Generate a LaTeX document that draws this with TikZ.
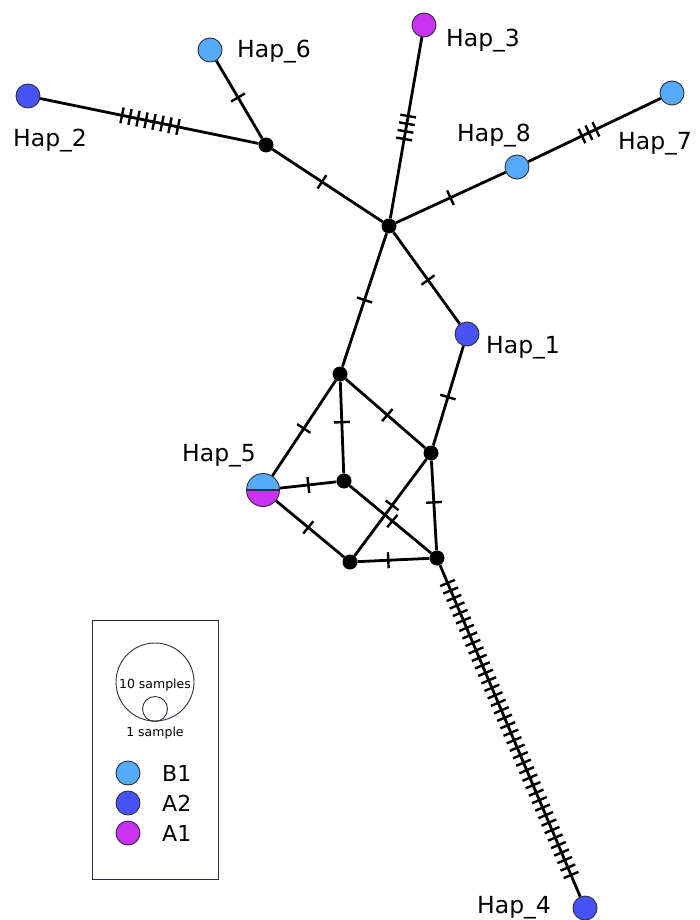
\documentclass[tikz,border=0pt]{standalone}
\usepackage{fontspec}
\setmainfont{DejaVu Sans}
\definecolor{cB}{RGB}{85,170,250}
\definecolor{cAtwo}{RGB}{72,82,245}
\definecolor{cAone}{RGB}{200,50,240}
\definecolor{outl}{RGB}{45,45,60}
\begin{document}
\begin{tikzpicture}[x=1pt,y=-1pt,
 hap/.style={circle, draw=outl, line width=0.9pt, minimum size=24pt, inner sep=0},
 med/.style={circle, fill=black, minimum size=15pt, inner sep=0},
 edge/.style={line width=2.8pt},
 tick/.style={sloped, fill=black, inner sep=0, minimum width=2.4pt, minimum height=16pt},
 lab/.style={anchor=base west, font=\fontsize{23.5}{28}\selectfont, inner sep=0},
 leglab/.style={anchor=base west, font=\fontsize{22}{26}\selectfont, inner sep=0}]
\useasboundingbox (0,0) rectangle (699,920);

% haplotypes and median vectors
\node[hap, fill=cAtwo] (h2) at (28,96) {};
\node[med] (a) at (266,145) {};
\node[hap, fill=cB] (h6) at (210,50) {};
\node[hap, fill=cAone] (h3) at (424,25) {};
\node[hap, fill=cB] (h8) at (517,167) {};
\node[hap, fill=cB] (h7) at (672,93) {};
\node[med] (b) at (389,226) {};
\node[hap, fill=cAtwo] (h1) at (467,334) {};
\node[med] (c) at (340,374) {};
\node[med] (d) at (431,453) {};
\node[hap, minimum size=33pt,
  path picture={
   \fill[cB] (path picture bounding box.north west) rectangle (path picture bounding box.east);
   \fill[cAone] (path picture bounding box.west) rectangle (path picture bounding box.south east);
   \draw[line width=1.6pt] (path picture bounding box.west) -- (path picture bounding box.east);
  }] (h5) at (263,490) {};
\node[med] (e) at (344,481) {};
\node[med] (f) at (350,562) {};
\node[med] (g) at (437,558) {};
\node[hap, fill=cAtwo] (h4) at (585,908) {};

% labels
\node[lab] (l2) at (13,147) {Hap\_2};
\node[lab] (l6) at (237,58) {Hap\_6};
\node[lab] (l3) at (446,47) {Hap\_3};
\node[lab] (l8) at (457,142) {Hap\_8};
\node[lab] (l7) at (618,150) {Hap\_7};
\node[lab] (l1) at (486,353) {Hap\_1};
\node[lab] (l5) at (182,461) {Hap\_5};
\node[lab] (l4) at (477,913) {Hap\_4};

% edges
\foreach \u/\v in {h2/a, h6/a, a/b, h3/b, b/h8, h8/h7, b/h1, b/c, h1/d,
  c/h5, c/e, c/d, h5/e, h5/f, e/g, d/f, d/g, f/g, g/h4}
  \draw[edge] (\u) -- (\v);

% mutation ticks
\foreach \u/\v/\s/\d/\n in {h2/a/0.395/0.0336/8, h6/a/0.5/0/1, a/b/0.455/0/1,
  h3/b/0.453/0.038/4, b/h8/0.48/0/1, h8/h7/0.419/0.045/3, b/h1/0.5/0/1,
  b/c/0.5/0/1, h1/d/0.53/0/1, c/h5/0.47/0/1, c/e/0.45/0/1, c/d/0.52/0/1,
  h5/e/0.56/0/1, h5/f/0.52/0/1, e/g/0.52/0/1, d/f/0.48/0/1, d/g/0.47/0/1,
  f/g/0.44/0/1, g/h4/0.0714/0.02139/40}
{
  \foreach \i in {1,...,\n}{
    \pgfmathsetmacro\p{\s+(\i-1)*\d}
    \path (\u.center) -- (\v.center) node[tick, pos=\p] {};
  }
}

% legend
\node[draw=outl, line width=1pt, minimum width=126pt, minimum height=259pt, inner sep=0] (leg) at (155,749.5) {};
\node[circle, draw=outl, line width=0.9pt, minimum size=78pt, inner sep=0] (big) at (155,682) {};
\node[circle, draw=outl, line width=0.9pt, minimum size=25pt, inner sep=0] (small) at (155,709) {};
\node[font=\fontsize{12.5}{14}\selectfont, inner sep=0] (t10) at (155,685) {10 samples};
\node[font=\fontsize{12.5}{14}\selectfont, inner sep=0] (t1) at (155,733) {1 sample};
\node[hap, fill=cB] (kB) at (128,773) {};
\node[hap, fill=cAtwo] (kA2) at (128,803) {};
\node[hap, fill=cAone] (kA1) at (128,833) {};
\node[leglab] (lB) at (162,781) {B1};
\node[leglab] (lA2) at (162,811) {A2};
\node[leglab] (lA1) at (162,841) {A1};
\end{tikzpicture}
\end{document}
